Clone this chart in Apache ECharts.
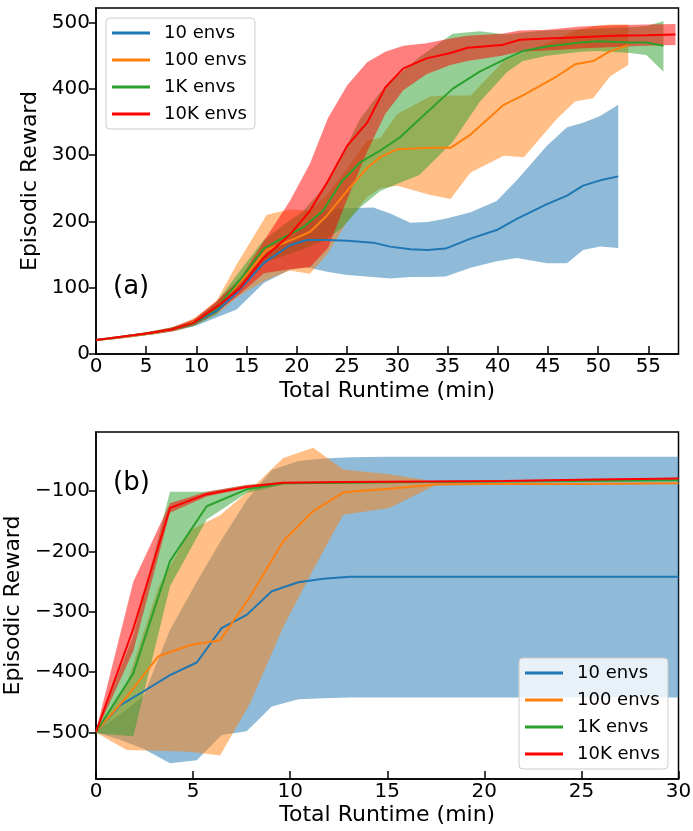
<!DOCTYPE html>
<html>
<head>
<meta charset="UTF-8">
<title>Episodic Reward vs Total Runtime</title>
<script src="https://cdn.jsdelivr.net/npm/echarts@6/dist/echarts.min.js"></script>
<style>
  html, body { margin: 0; padding: 0; background: #fff; }
  #chart { width: 693px; height: 831px; }
</style>
</head>
<body>
<div id="chart"></div>
<script>
// legend names, panel labels
var seriesNames = ['10 envs', '100 envs', '1K envs', '10K envs'];
var panelLabels = ['(a)', '(b)'];

// tick labels
var aXTicks = [0, 5, 10, 15, 20, 25, 30, 35, 40, 45, 50, 55];
var aYTicks = [0, 100, 200, 300, 400, 500];
var bXTicks = [0, 5, 10, 15, 20, 25, 30];
var bYTicks = [-500, -400, -300, -200, -100];

// panel (a)
var aX10 = [0, 2, 4, 6, 8, 10, 12, 14, 16.7, 19.3, 21, 23, 25, 27.6, 29.3, 31.3, 33, 34.8, 37.3, 39.9, 41.9, 44.9, 46.9, 48.5, 50.2, 52];
var aMean10 = [21, 24, 28, 32, 38, 49, 65, 92, 137, 164, 172, 172, 171, 168, 162, 158, 157, 159, 174, 187, 204, 226, 239, 254, 262, 268];
var aLow10 = [20, 23, 27, 30, 35, 43, 55, 67, 107, 127, 131, 124, 119, 116, 114, 116, 116, 117, 130, 140, 145, 137, 137, 157, 162, 160];
var aHigh10 = [22, 25, 30, 34, 40, 53, 75, 110, 150, 172, 198, 218, 220, 221, 212, 198, 199, 204, 214, 231, 262, 314, 342, 349, 359, 376];

var aX100 = [0, 2, 4, 6, 8, 10, 12, 14, 15, 17, 19.3, 21.3, 23, 25, 27, 28.3, 30, 33.3, 35.3, 37.3, 40.6, 42.6, 45.9, 47.7, 49.5, 51.2, 53];
var aMean100 = [21, 24, 28, 32, 38, 50, 70, 103, 120, 157, 171, 184, 209, 246, 281, 297, 309, 311, 311, 331, 376, 391, 419, 437, 442, 457, 466];
var aLow100 = [20, 23, 27, 30, 35, 45, 60, 85, 95, 112, 126, 121, 150, 200, 237, 250, 254, 240, 234, 274, 299, 297, 355, 381, 386, 419, 436];
var aHigh100 = [22, 25, 30, 35, 42, 56, 80, 135, 160, 210, 218, 217, 240, 280, 322, 326, 362, 389, 390, 390, 442, 455, 475, 488, 495, 497, 497];

var aX1k = [0, 2.5, 5, 7.5, 9.7, 12, 14.3, 16.7, 18.7, 20.6, 22.6, 24.5, 26.3, 28.3, 30.2, 32.2, 35.5, 38.2, 40.9, 42.5, 44.9, 48.2, 50, 53.2, 54.8, 56.5];
var aMean1k = [21, 26, 31, 37, 46, 69, 111, 159, 176, 191, 216, 261, 289, 307, 326, 354, 400, 426, 446, 457, 464, 470, 472, 470, 470, 465];
var aLow1k = [20, 25, 30, 35, 42, 60, 98, 138, 148, 158, 170, 190, 221, 246, 258, 270, 320, 380, 425, 442, 450, 456, 457, 454, 451, 426];
var aHigh1k = [22, 27, 33, 40, 50, 78, 125, 172, 195, 215, 250, 300, 355, 395, 422, 448, 483, 487, 482, 485, 488, 490, 491, 493, 495, 502];

var aX10k = [0, 2.5, 5, 7.5, 9.7, 12, 14.3, 16.7, 19.3, 21.3, 23.1, 25, 27, 28.8, 30.6, 32.9, 35.3, 37, 40.4, 42.2, 44.9, 48.2, 51.5, 54.8, 57.7];
var aMean10k = [21, 26, 31, 37, 47, 71, 99, 145, 180, 216, 261, 314, 349, 402, 431, 446, 454, 462, 466, 474, 476, 478, 480, 481, 482];
var aLow10k = [20, 25, 29, 34, 43, 63, 90, 122, 128, 131, 160, 233, 305, 362, 398, 422, 436, 442, 450, 456, 458, 461, 463, 465, 466];
var aHigh10k = [22, 27, 33, 40, 52, 80, 112, 170, 231, 287, 356, 405, 440, 456, 465, 469, 476, 480, 483, 488, 489, 494, 496, 497, 498];

// panel (b)
var bX10 = [0, 1.24, 2.44, 3.81, 5.19, 6.47, 7.76, 9.05, 10.42, 11.7, 13.08, 15, 20, 25, 30];
var bMean10 = [-499, -455, -432, -405, -384, -327, -305, -266, -251, -245, -242, -242, -242, -242, -242];
var bLow10 = [-500, -512, -527, -551, -546, -504, -498, -457, -445, -443, -442, -442, -442, -442, -442];
var bHigh10 = [-498, -470, -440, -330, -250, -180, -115, -65, -50, -46, -44, -43, -43, -43, -43];

var bX100 = [0, 1.58, 3.2, 4.84, 6.39, 7.93, 9.64, 11.19, 12.73, 15.1, 17.5, 20, 25, 30];
var bMean100 = [-499, -441, -374, -355, -347, -275, -183, -133, -102, -96, -89, -88, -88, -87];
var bLow100 = [-500, -529, -530, -532, -538, -452, -325, -230, -139, -128, -90, -89, -89, -88];
var bHigh100 = [-498, -420, -260, -165, -140, -98, -45, -28, -64, -72, -84, -86, -86, -86];

var bX1k = [0, 1.92, 3.81, 5.7, 7.76, 9.64, 13, 17, 21, 25, 30];
var bMean1k = [-499, -402, -216, -125, -97, -87, -86, -85, -84, -83, -82];
var bLow1k = [-501, -506, -258, -147, -103, -89, -87, -86, -85, -84, -83];
var bHigh1k = [-497, -340, -101, -101, -90, -85, -85, -84, -83, -82, -81];

var bX10k = [0, 1.92, 3.81, 5.7, 7.76, 9.64, 13, 17, 21, 25, 30];
var bMean10k = [-499, -328, -128, -105, -93, -86, -85, -84, -83, -81, -79];
var bLow10k = [-501, -365, -136, -109, -95, -88, -86, -85, -84, -82, -80];
var bHigh10k = [-497, -250, -120, -101, -90, -85, -84, -83, -82, -80, -78];

var colors = ['#1f77b4', '#ff7f0e', '#2ca02c', '#ff0000'];
var font = 'DejaVu Sans';

var panels = [
  [[aX10, aMean10, aLow10, aHigh10], [aX100, aMean100, aLow100, aHigh100],
   [aX1k, aMean1k, aLow1k, aHigh1k], [aX10k, aMean10k, aLow10k, aHigh10k]],
  [[bX10, bMean10, bLow10, bHigh10], [bX100, bMean100, bLow100, bHigh100],
   [bX1k, bMean1k, bLow1k, bHigh1k], [bX10k, bMean10k, bLow10k, bHigh10k]]
];

function pairs(xs, ys) {
  return xs.map(function (x, i) { return [x, ys[i]]; });
}

function minusSign(v) {
  return String(v).replace('-', '\u2212');
}

// shaded band: one polygon, upper edge forward then lower edge back
function band(gi, k, d) {
  var data = d[0].map(function (x, i) { return [x, d[2][i], d[3][i]]; });
  return {
    type: 'custom', xAxisIndex: gi, yAxisIndex: gi, silent: true, z: 1, clip: true,
    encode: { x: 0, y: [1, 2] },
    data: data,
    renderItem: function (params, api) {
      if (params.dataIndexInside !== 0) return;
      var n = params.dataInsideLength;
      var pts = [];
      for (var i = 0; i < n; i++) pts.push(api.coord([api.value(0, i), api.value(2, i)]));
      for (var j = n - 1; j >= 0; j--) pts.push(api.coord([api.value(0, j), api.value(1, j)]));
      return {
        type: 'polygon', shape: { points: pts },
        style: { fill: colors[k], opacity: 0.5, stroke: null }
      };
    }
  };
}

var series = [];
panels.forEach(function (p, gi) {
  p.forEach(function (d, k) { series.push(band(gi, k, d)); });
});
panels.forEach(function (p, gi) {
  p.forEach(function (d, k) {
    series.push({
      type: 'line', name: seriesNames[k], xAxisIndex: gi, yAxisIndex: gi,
      data: pairs(d[0], d[1]), symbol: 'none', z: 3,
      lineStyle: { color: colors[k], width: 2 }, itemStyle: { color: colors[k] }
    });
  });
});

function xAxis(gi, max, ticks, gap) {
  return {
    type: 'value', gridIndex: gi, min: 0, max: max,
    name: 'Total Runtime (min)', nameLocation: 'middle', nameGap: gap,
    nameTextStyle: { fontSize: 22, color: '#000', fontFamily: font },
    axisLine: { show: true, lineStyle: { color: '#000', width: 1.5 } },
    axisTick: { show: true, inside: true, length: 8, customValues: ticks, lineStyle: { color: '#000', width: 1.5 } },
    axisLabel: { customValues: ticks, fontSize: 20, color: '#000', fontFamily: font, margin: 3 },
    splitLine: { show: false }
  };
}

function yAxis(gi, min, max, ticks, gap) {
  return {
    type: 'value', gridIndex: gi, min: min, max: max,
    name: 'Episodic Reward', nameLocation: 'middle', nameGap: gap,
    nameTextStyle: { fontSize: 22, color: '#000', fontFamily: font },
    axisLine: { show: true, lineStyle: { color: '#000', width: 1.5 } },
    axisTick: { show: true, inside: false, length: 7, customValues: ticks, lineStyle: { color: '#000', width: 1.5 } },
    axisLabel: { customValues: ticks, fontSize: 20, color: '#000', fontFamily: font, margin: 6, formatter: minusSign },
    splitLine: { show: false }
  };
}

function legend(left, top) {
  return {
    data: seriesNames, orient: 'vertical', left: left, top: top,
    icon: 'rect', itemWidth: 38, itemHeight: 3, itemGap: 9,
    padding: [6, 8, 6, 6],
    backgroundColor: 'rgba(255,255,255,0.8)', borderColor: '#cccccc', borderWidth: 1, borderRadius: 4,
    textStyle: { fontSize: 18, color: '#000', fontFamily: font, padding: [0, 0, 0, 9] }
  };
}

var chart = echarts.init(document.getElementById('chart'), null, { renderer: 'canvas' });
chart.setOption({
  animation: false,
  textStyle: { fontFamily: font },
  grid: [
    { left: 96, top: 8, right: 14.5, height: 346, show: true, borderColor: '#000', borderWidth: 1.5, outerBoundsMode: 'none', containLabel: false },
    { left: 96, top: 432, right: 14.5, height: 347, show: true, borderColor: '#000', borderWidth: 1.5, outerBoundsMode: 'none', containLabel: false }
  ],
  xAxis: [xAxis(0, 58, aXTicks, 26), xAxis(1, 30, bXTicks, 25)],
  yAxis: [yAxis(0, 0, 522, aYTicks, 37), yAxis(1, -577, -2, bYTicks, 32)],
  legend: [legend(106, 18), legend(519, 658)],
  graphic: [
    { type: 'text', left: 113, top: 274, style: { text: panelLabels[0], fontSize: 26, fill: '#000', fontFamily: font } },
    { type: 'text', left: 113, top: 470, style: { text: panelLabels[1], fontSize: 26, fill: '#000', fontFamily: font } }
  ],
  series: series
});
</script>
</body>
</html>
